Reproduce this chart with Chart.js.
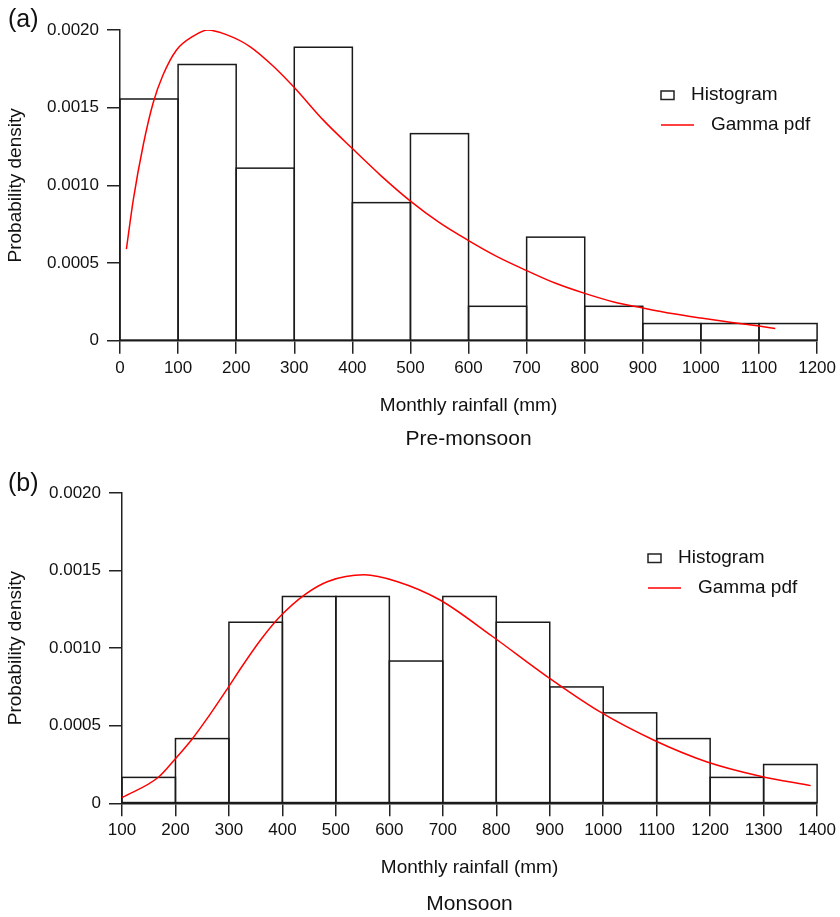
<!DOCTYPE html>
<html>
<head>
<meta charset="utf-8">
<script src="https://cdn.jsdelivr.net/npm/chart.js@4.4.1/dist/chart.umd.min.js"></script>
<style>
  html, body { margin: 0; padding: 0; background: #fff; }
  .panel { position: absolute; left: 0; }
  .tag { position: absolute; left: 8px; font: 25px 'Liberation Sans', Arial, sans-serif; line-height: 1; color: #111; }
</style>
</head>
<body>
<div class="panel" style="top:0"><canvas id="chartA" width="840" height="454"></canvas></div>
<div class="tag" style="top:6px">(a)</div>
<div class="panel" style="top:463px"><canvas id="chartB" width="840" height="454"></canvas></div>
<div class="tag" style="top:470px">(b)</div>
<script>
// pre-monsoon histogram (bin edges + density)
const edgesA = [0, 100, 200, 300, 400, 500, 600, 700, 800, 900, 1000, 1100, 1200];
const densityA = [0.001556, 0.001778, 0.001111, 0.001889, 0.000889, 0.001333, 0.000222, 0.000667, 0.000222, 0.000111, 0.000111, 0.000111];
const curveXA = [11, 23, 40, 57, 74, 97, 126, 151, 183, 223, 263, 300, 350, 400, 450, 500, 550, 600, 650, 700, 750, 800, 850, 900, 950, 1000, 1050, 1100, 1128];
const curveYA = [0.00059, 0.00091, 0.00126, 0.00153, 0.00171, 0.00187, 0.00196, 0.002, 0.00197, 0.001895, 0.00177, 0.00163, 0.00142, 0.001237, 0.00106, 0.000899, 0.00076, 0.000645, 0.00054, 0.000452, 0.00037, 0.000305, 0.00025, 0.000211, 0.000175, 0.000146, 0.00012, 0.000095, 0.000079];
const xTicksA = [0, 100, 200, 300, 400, 500, 600, 700, 800, 900, 1000, 1100, 1200];

// monsoon
const edgesB = [100, 200, 300, 400, 500, 600, 700, 800, 900, 1000, 1100, 1200, 1300, 1400];
const densityB = [0.000167, 0.000417, 0.001167, 0.001333, 0.001333, 0.000917, 0.001333, 0.001167, 0.00075, 0.000583, 0.000417, 0.000167, 0.00025];
const curveXB = [100, 168, 199, 232, 263, 297, 325, 362, 396, 442, 485, 553, 614, 694, 793, 895, 995, 1094, 1193, 1292, 1388];
const curveYB = [0.000036, 0.000168, 0.000284, 0.000418, 0.000565, 0.000738, 0.000885, 0.001065, 0.001205, 0.001345, 0.00143, 0.001473, 0.00143, 0.001312, 0.001075, 0.000817, 0.000587, 0.000408, 0.000268, 0.000176, 0.000114];
const xTicksB = [100, 200, 300, 400, 500, 600, 700, 800, 900, 1000, 1100, 1200, 1300, 1400];

const yTickValues = [0, 0.0005, 0.001, 0.0015, 0.002];
const yTickLabels = ["0", "0.0005", "0.0010", "0.0015", "0.0020"];

const FONT = "'Liberation Sans', Arial, sans-serif";
Chart.defaults.font.family = FONT;
Chart.defaults.color = "#111";

// outline each histogram bar as one rectangle so shared edges stay a single line
const barOutline = {
    id: "barOutline",
    beforeDatasetsDraw(chart) {
        const ctx = chart.ctx;
        const meta = chart.getDatasetMeta(1);
        ctx.save();
        ctx.strokeStyle = "#1a1a1a";
        ctx.lineWidth = 1.5;
        meta.data.forEach(el => {
            const p = el.getProps(["x", "y", "base", "width"], true);
            ctx.strokeRect(p.x - p.width / 2, p.y, p.width, p.base - p.y);
        });
        ctx.restore();
    }
};

// legend drawn inside the plot, like the original figure
const boxLegend = {
    id: "boxLegend",
    afterDatasetsDraw(chart, args, opts) {
        const ctx = chart.ctx;
        const top = chart.chartArea.top;
        const x = opts.x;
        const line = chart.data.datasets[0], bars = chart.data.datasets[1];
        ctx.save();
        ctx.font = "19px " + FONT;
        ctx.fillStyle = "#111";
        ctx.textBaseline = "middle";
        ctx.lineWidth = 1.5;
        ctx.strokeStyle = "#222";
        ctx.strokeRect(x, top + 61, 13, 8.5);
        ctx.fillText(bars.label, x + 30, top + 65);
        ctx.strokeStyle = line.borderColor;
        ctx.beginPath();
        ctx.moveTo(x, top + 95);
        ctx.lineTo(x + 33, top + 95);
        ctx.stroke();
        ctx.fillText(line.label, x + 50, top + 95);
        ctx.restore();
    }
};

function makeChart(id, edges, density, curveX, curveY, xTicks, title, yWidth, padRight, legendX, titlePad) {
    const ctx = document.getElementById(id).getContext("2d");
    return new Chart(ctx, {
        type: "bar",
        data: {
            datasets: [{
                type: "line",
                label: "Gamma pdf",
                data: curveX.map((x, i) => ({ x: x, y: curveY[i] })),
                borderColor: "#ff0000",
                borderWidth: 1.5,
                pointRadius: 0,
                cubicInterpolationMode: "monotone",
                capBezierPoints: false,
                order: 0
            }, {
                type: "bar",
                label: "Histogram",
                data: density.map((y, i) => ({ x: (edges[i] + edges[i + 1]) / 2, y: y })),
                backgroundColor: "rgba(0,0,0,0)",
                borderWidth: 0,
                barPercentage: 1,
                categoryPercentage: 1,
                order: 1
            }]
        },
        options: {
            responsive: false,
            animation: false,
            layout: { padding: { top: 30, right: padRight, bottom: 0, left: 0 } },
            plugins: {
                legend: { display: false },
                tooltip: { enabled: false },
                title: {
                    display: true, position: "bottom", fullSize: false, text: title,
                    font: { size: 21, weight: "normal" }, color: "#111",
                    padding: titlePad
                },
                boxLegend: { x: legendX }
            },
            scales: {
                x: {
                    type: "linear",
                    min: xTicks[0], max: xTicks[xTicks.length - 1],
                    offset: false,
                    afterBuildTicks: s => { s.ticks = xTicks.map(v => ({ value: v })); },
                    afterFit: s => { s.height = 80; },
                    grid: { offset: false, drawOnChartArea: false, drawTicks: true, tickLength: 13, color: "#222", lineWidth: 1.5 },
                    border: { display: true, color: "#222", width: 1.5 },
                    ticks: { font: { size: 17 }, color: "#111", padding: 4, maxRotation: 0, autoSkip: false, callback: v => String(v) },
                    title: { display: true, text: "Monthly rainfall (mm)", font: { size: 19 }, color: "#111", padding: { top: 0, bottom: 4 } }
                },
                y: {
                    min: 0, max: 0.002,
                    afterBuildTicks: s => { s.ticks = yTickValues.map(v => ({ value: v })); },
                    afterFit: s => { s.width = yWidth; },
                    grid: { drawOnChartArea: false, drawTicks: true, tickLength: 13, color: "#222", lineWidth: 1.5 },
                    border: { display: true, color: "#222", width: 1.5 },
                    ticks: { font: { size: 17 }, color: "#111", padding: 8, callback: (v, i) => yTickLabels[i] },
                    title: { display: true, text: "Probability density", font: { size: 19 }, color: "#111", padding: { top: 4, bottom: 0 } }
                }
            }
        },
        plugins: [barOutline, boxLegend]
    });
}

makeChart("chartA", edgesA, densityA, curveXA, curveYA, xTicksA, "Pre-monsoon", 120, 20, 661, { top: 6, bottom: 2 });
makeChart("chartB", edgesB, densityB, curveXB, curveYB, xTicksB, "Monsoon", 122, 19, 648, { top: 8.5, bottom: 0 });
</script>
</body>
</html>
